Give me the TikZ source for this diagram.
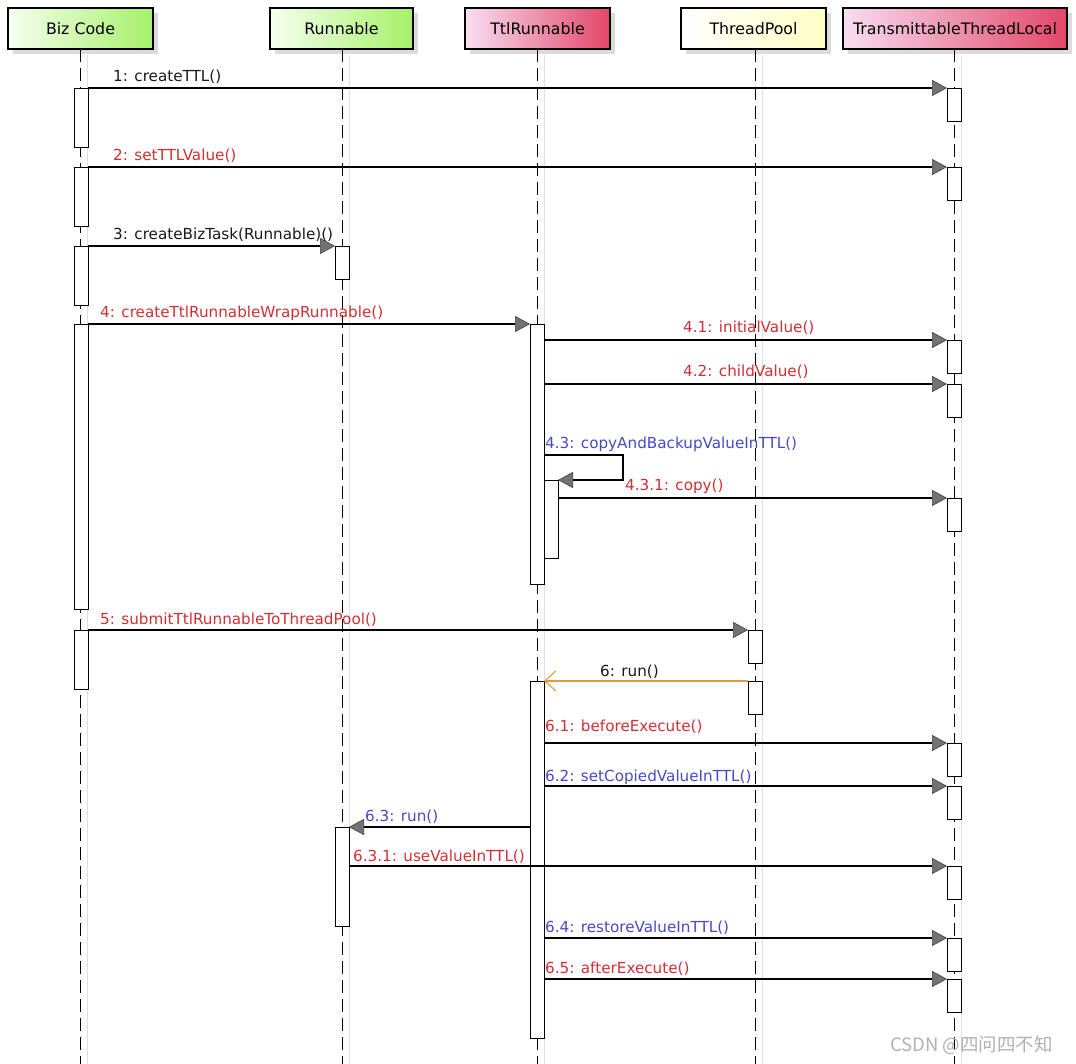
\documentclass[tikz,border=0pt]{standalone}
\usepackage{fontspec}
\setmainfont{DejaVu Sans}
\newfontfamily\cjk{Noto Sans CJK SC}
\usetikzlibrary{arrows.meta,shadows}
\definecolor{msgred}{RGB}{208,48,52}
\definecolor{msgblue}{RGB}{72,72,200}
\definecolor{msgorange}{RGB}{222,158,64}
\definecolor{hgreen}{RGB}{166,240,104}
\definecolor{hgreenl}{RGB}{246,255,240}
\definecolor{hred}{RGB}{226,70,104}
\definecolor{hpink}{RGB}{248,222,242}
\definecolor{hyellow}{RGB}{255,255,196}
\newcommand\actbar[4]{\node[actbar,minimum height=#4pt,anchor=north west] (#1) at (#2,#3) {};}
\begin{document}
\begin{tikzpicture}[x=1pt,y=-1pt,
  font=\fontsize{15.2}{18}\selectfont,
  head/.style={draw=black,line width=2.2pt,minimum height=41pt,inner sep=0pt,
    font=\fontsize{15.8}{18}\selectfont,
    drop shadow={shadow xshift=5pt,shadow yshift=-5pt,fill=gray!28,opacity=1}},
  greenhead/.style={head,left color=hgreenl,right color=hgreen},
  redhead/.style={head,left color=hpink,right color=hred},
  yellowhead/.style={head,left color=white,right color=hyellow},
  lifeline/.style={draw=black,line width=1pt,dash pattern=on 13pt off 6pt},
  lifeshade/.style={draw=gray!25,line width=0.8pt},
  actbar/.style={draw=black,fill=white,line width=0.9pt,minimum width=14pt,inner sep=0pt,outer sep=0pt},
  msg/.style={draw=black,line width=1.1pt,-{Triangle[length=15pt,width=16pt,fill=black!55,color=black!75,line width=0.6pt]}},
  retmsg/.style={draw=msgorange,line width=1.1pt,-{Straight Barb[length=11pt,width=20pt,line width=1.1pt]}},
  lbl/.style={anchor=base west,inner sep=0pt},
  lred/.style={lbl,text=msgred},
  lblue/.style={lbl,text=msgblue},
  lblack/.style={lbl,text=black!90}
]
\useasboundingbox (0,0) rectangle (1076,1064);
\fill[white] (0,0) rectangle (1076,1064);

% heads
\node[greenhead,minimum width=145pt] (hBiz) at (80.5,28.5) {Biz Code};
\node[greenhead,minimum width=143pt] (hRun) at (341.5,28.5) {Runnable};
\node[redhead,minimum width=145pt] (hTtlR) at (537.5,28.5) {TtlRunnable};
\node[yellowhead,minimum width=145pt] (hPool) at (753.5,28.5) {ThreadPool};
\node[redhead,minimum width=224pt] (hTTL) at (955,28.5) {TransmittableThreadLocal};

% lifelines
\foreach \h/\x in {hBiz/80,hRun/342,hTtlR/537,hPool/755,hTTL/954}{
  \draw[lifeshade] (\x+7,55) -- (\x+7,1064);
  \draw[lifeline] (\x,49) -- (\x,1064);
}

% activation bars
\actbar{bz1}{74}{88}{59}
\actbar{bz2}{74}{167}{59}
\actbar{bz3}{74}{246}{59}
\actbar{bz4}{74}{324}{285}
\actbar{bz5}{74}{630}{59}
\actbar{rn1}{335}{246}{33}
\actbar{rn2}{335}{827}{99}
\actbar{tr1}{530}{324}{260}
\actbar{tr1n}{544}{480}{78}
\actbar{tr2}{530}{681}{357}
\actbar{tp1}{748}{630}{33}
\actbar{tp2}{748}{681}{33}
\actbar{tt1}{947}{88}{33}
\actbar{tt2}{947}{167}{33}
\actbar{tt3}{947}{340}{33}
\actbar{tt4}{947}{384}{33}
\actbar{tt5}{947}{498}{33}
\actbar{tt6}{947}{743}{33}
\actbar{tt7}{947}{786}{33}
\actbar{tt8}{947}{866}{33}
\actbar{tt9}{947}{938}{33}
\actbar{tt10}{947}{979}{33}

% messages
\draw[msg] (bz1.north east) -- (tt1.north west);
\draw[msg] (bz2.north east) -- (tt2.north west);
\draw[msg] (bz3.north east) -- (rn1.north west);
\draw[msg] (bz4.north east) -- (tr1.north west);
\draw[msg] (tr1.east |- tt3.north) -- (tt3.north west);
\draw[msg] (tr1.east |- tt4.north) -- (tt4.north west);
\coordinate (loopR) at (623,455);
\draw[msg] (tr1.east |- loopR) -- (loopR) |- (tr1n.north east);
\draw[msg] (tr1n.east |- tt5.north) -- (tt5.north west);
\draw[msg] (bz5.north east) -- (tp1.north west);
\draw[retmsg] (tp2.north west) -- (tr2.north east);
\draw[msg] (tr2.east |- tt6.north) -- (tt6.north west);
\draw[msg] (tr2.east |- tt7.north) -- (tt7.north west);
\draw[msg] (tr2.west |- rn2.north) -- (rn2.north east);
\draw[msg] (rn2.east |- tt8.north) -- (tt8.north west);
\draw[msg] (tr2.east |- tt9.north) -- (tt9.north west);
\draw[msg] (tr2.east |- tt10.north) -- (tt10.north west);

% labels
\node[lblack] (l1) at (113,82) {1: createTTL()};
\node[lred] (l2) at (113,161) {2: setTTLValue()};
\node[lblack] (l3) at (113,240) {3: createBizTask(Runnable)()};
\node[lred] (l4) at (100,318) {4: createTtlRunnableWrapRunnable()};
\node[lred] (l41) at (683,333) {4.1: initialValue()};
\node[lred] (l42) at (683,377) {4.2: childValue()};
\node[lblue] (l43) at (545,448) {4.3: copyAndBackupValueInTTL()};
\node[lred] (l431) at (625,490) {4.3.1: copy()};
\node[lred] (l5) at (100,624) {5: submitTtlRunnableToThreadPool()};
\node[lblack] (l6) at (600,676) {6: run()};
\node[lred] (l61) at (545,731) {6.1: beforeExecute()};
\node[lblue] (l62) at (545,781) {6.2: setCopiedValueInTTL()};
\node[lblue] (l63) at (365,821) {6.3: run()};
\node[lred] (l631) at (353,861) {6.3.1: useValueInTTL()};
\node[lblue] (l64) at (545,932) {6.4: restoreValueInTTL()};
\node[lred] (l65) at (545,973) {6.5: afterExecute()};

% watermark
\node[anchor=west,inner sep=0pt,text=gray!60,font=\cjk\fontsize{18.5}{20}\selectfont] (wm) at (890,1045) {CSDN @四问四不知};
\end{tikzpicture}
\end{document}
